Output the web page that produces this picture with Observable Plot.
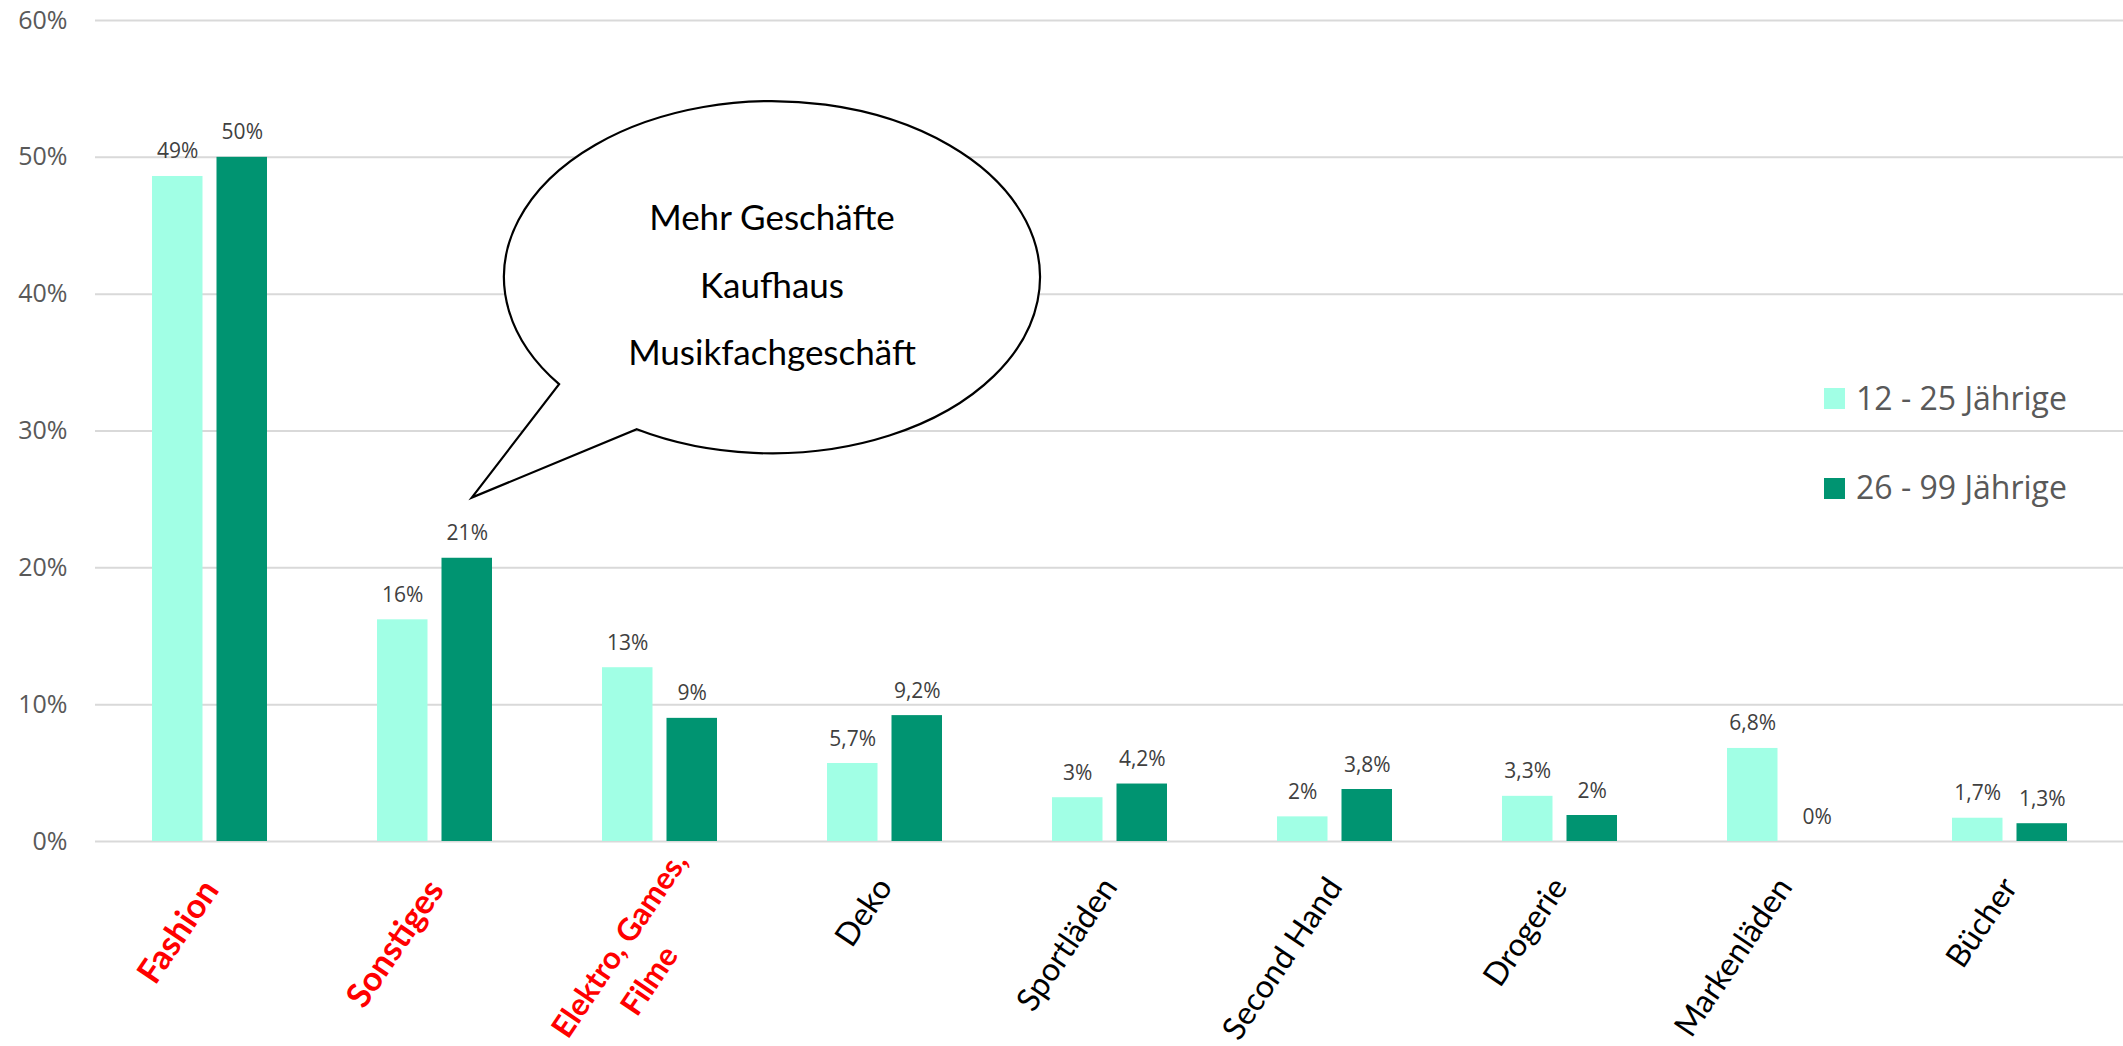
<!DOCTYPE html>
<html><head><meta charset="utf-8">
<script src="https://cdn.jsdelivr.net/npm/d3@7"></script>
<script src="https://cdn.jsdelivr.net/npm/@observablehq/plot@0.6"></script>
<style>html,body{margin:0;padding:0;background:#fff;overflow:hidden}</style>
</head><body><div id="chart"></div>
<script>
const categories = ["Fashion", "Sonstiges", "Elektro, Games,\nFilme", "Deko", "Sportläden", "Second Hand", "Drogerie", "Markenläden", "Bücher"];
const displayLabels = ["Fashion", "Sonstiges", "Elektro, Games,\nFilme" + "\u00A0".repeat(11), "Deko", "Sportläden", "Second Hand", "Drogerie", "Markenläden", "Bücher"];
const highlighted = ["Fashion", "Sonstiges", "Elektro, Games,\nFilme"];
const series = ["12 - 25 Jährige", "26 - 99 Jährige"];
const young = [48.6, 16.2, 12.7, 5.7, 3.2, 1.8, 3.3, 6.8, 1.7];
const older = [50.0, 20.7, 9.0, 9.2, 4.2, 3.8, 1.9, 0, 1.3];
const youngLabels = ["49%", "16%", "13%", "5,7%", "3%", "2%", "3,3%", "6,8%", "1,7%"];
const olderLabels = ["50%", "21%", "9%", "9,2%", "4,2%", "3,8%", "2%", "0%", "1,3%"];
const yTicks = [0, 10, 20, 30, 40, 50, 60];
const bubbleLines = ["Mehr Geschäfte", "Kaufhaus", "Musikfachgeschäft"];
const colors = ["#A1FFE5", "#009471"];

const rows = categories.map((c, i) => ({
  category: c, label: displayLabels[i], young: young[i], older: older[i],
  yl: youngLabels[i], ol: olderLabels[i], hi: highlighted.includes(c), multi: c.includes("\n")
}));

const W = 2123, H = 1046;
const inset = 64.5, half = 32.3;
const rot = -56;

const plot = Plot.plot({
  width: W, height: H,
  marginLeft: 95, marginRight: 0, marginTop: 20, marginBottom: 205,
  style: {fontFamily: "Open Sans", background: "white", color: "#595959"},
  x: {domain: categories, axis: null, paddingInner: 0.49, paddingOuter: 0.245},
  y: {domain: [0, 60], label: null},
  marks: [
    Plot.ruleY(yTicks, {stroke: "#d9d9d9", strokeWidth: 2}),
    Plot.barY(rows, {x: "category", y: "young", fill: colors[0], insetRight: inset}),
    Plot.barY(rows, {x: "category", y: "older", fill: colors[1], insetLeft: inset}),
    Plot.text(rows, {x: "category", y: "young", text: "yl", dx: -half, dy: -18, lineAnchor: "bottom", fontSize: 21, fill: "#404040"}),
    Plot.text(rows, {x: "category", y: "older", text: "ol", dx: half, dy: -18, lineAnchor: "bottom", fontSize: 21, fill: "#404040"}),
    Plot.axisY({ticks: yTicks, tickFormat: d => d + "%", tickSize: 0, tickPadding: 28, fontSize: 25, label: null}),
    Plot.text(rows.filter(d => d.hi && !d.multi), {x: "category", text: "label", frameAnchor: "bottom", rotate: rot, textAnchor: "end", lineAnchor: "top", dx: -10, dy: 35, fontSize: 34, fontWeight: "bold", fill: "#ff0000", fontFamily: "Lato"}),
    Plot.text(rows.filter(d => d.hi && d.multi), {x: "category", text: "label", frameAnchor: "bottom", rotate: rot, textAnchor: "end", lineAnchor: "top", dx: 2, dy: 2, fontSize: 31, fontWeight: "bold", fill: "#ff0000", fontFamily: "Lato", lineHeight: 1.45}),
    Plot.text(rows.filter(d => !d.hi), {x: "category", text: "label", frameAnchor: "bottom", rotate: rot, textAnchor: "end", lineAnchor: "middle", dx: 0, dy: 40, fontSize: 32, fill: "#000000", fontFamily: "Lato"})
  ]
});

document.getElementById("chart").appendChild(plot);

// Annotation bubble and legend, positioned through the plot's scales
const sx = plot.scale("x"), sy = plot.scale("y");
const bw = sx.bandwidth;
const c2 = sx.apply(categories[2]) + bw / 2, c3 = sx.apply(categories[3]) + bw / 2;
const cx = (c2 + c3) / 2, cy = sy.apply(41.2);
const rx = 268, ry = sy.apply(0) - sy.apply(12.87);
const a1 = 142.6 * Math.PI / 180, a2 = 120.3 * Math.PI / 180;
const p1 = [cx + rx * Math.cos(a1), cy + ry * Math.sin(a1)];
const p2 = [cx + rx * Math.cos(a2), cy + ry * Math.sin(a2)];
const tip = [sx.apply(categories[1]) + bw / 2 + half + 5, sy.apply(25.1)];
const svg = d3.select(plot);
const g = svg.append("g");
g.append("path")
  .attr("d", `M${p1[0]},${p1[1]}A${rx},${ry} 0 1 1 ${p2[0]},${p2[1]}L${tip[0]},${tip[1]}Z`)
  .attr("fill", "white").attr("stroke", "black").attr("stroke-width", 2.2).attr("stroke-linejoin", "miter");
g.selectAll("text.b").data(bubbleLines).join("text")
  .attr("x", cx).attr("y", (d, i) => cy - 47 + i * 67.5)
  .attr("text-anchor", "middle").attr("font-family", "Lato").attr("font-size", 35).attr("fill", "#000")
  .text(d => d);

const lg = svg.append("g").attr("font-family", "Open Sans").attr("font-size", 32).attr("fill", "#595959").attr("text-anchor", "start");
series.forEach((s, i) => {
  lg.append("rect").attr("x", 1824).attr("y", 388 + i * 90).attr("width", 21).attr("height", 21).attr("fill", colors[i]);
  lg.append("text").attr("x", 1856).attr("y", 410 + i * 89).attr("text-anchor", "start").text(s);
});
</script>
</body></html>
